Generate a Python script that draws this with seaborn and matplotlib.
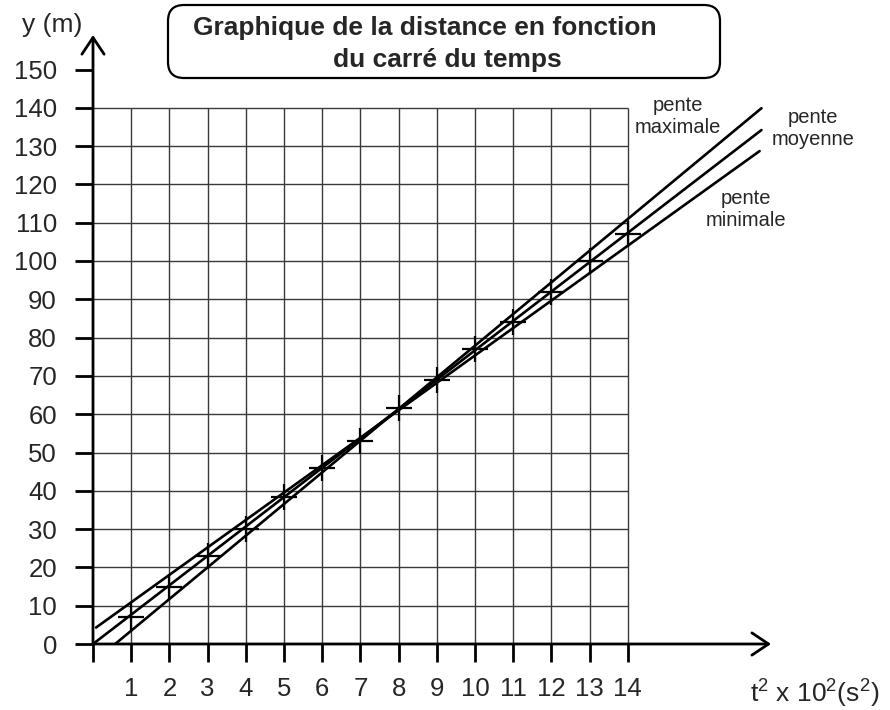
import matplotlib
matplotlib.use("Agg")
import matplotlib.pyplot as plt
from matplotlib.patches import FancyBboxPatch
import seaborn as sns
import numpy as np
import pandas as pd

# donnees
t2 = [1, 2, 3, 4, 5, 6, 7, 8, 9, 10, 11, 12, 13, 14]
dist = [7, 15, 23, 30, 38.5, 46, 53, 61.5, 69, 77, 84, 92, 100, 107]

# droites (extremites)
pente_max_x = [0.58, 17.5]
pente_max_y = [0.0, 139.9]
pente_moy_x = [0.0, 17.5]
pente_moy_y = [0.0, 134.2]
pente_min_x = [0.08, 17.45]
pente_min_y = [4.3, 128.7]

x_ticks = list(range(0, 15))
x_labels = [""] + [str(i) for i in range(1, 15)]
y_ticks = list(range(0, 151, 10))

sns.set_style("white")
plt.rcParams["font.family"] = ["Liberation Sans", "DejaVu Sans"]
plt.rcParams["mathtext.default"] = "regular"

fig = plt.figure(figsize=(8.9, 7.1), dpi=100)
ax = fig.add_axes([93 / 890, 66 / 710, 687.6 / 890, 612.8 / 710])
ax.set_xlim(0, 18)
ax.set_ylim(0, 160)

# quadrillage (jusqu'a 14 et 140 seulement)
ax.vlines(x_ticks[1:], 0, 140, color="#3a3a3a", lw=1.0, zorder=1)
ax.hlines(y_ticks[1:15], 0, 14, color="#3a3a3a", lw=1.0, zorder=1)

# droites de pente
for lx, ly in [(pente_max_x, pente_max_y), (pente_moy_x, pente_moy_y), (pente_min_x, pente_min_y)]:
    sns.lineplot(x=lx, y=ly, color="black", lw=1.9, ax=ax, zorder=3)

# points de mesure
df = pd.DataFrame({"t2": t2, "y": dist})
sns.scatterplot(data=df, x="t2", y="y", marker="+", s=330, color="black",
                linewidths=1.6, ax=ax, zorder=4)

# axes avec fleches
for s in ax.spines.values():
    s.set_visible(False)
ax.annotate("", xy=(17.75, 0), xytext=(0, 0),
            arrowprops=dict(arrowstyle="->,head_length=0.6,head_width=0.4",
                            lw=2, color="black", mutation_scale=20,
                            shrinkA=0, shrinkB=0), zorder=5)
ax.annotate("", xy=(0, 159), xytext=(0, 0),
            arrowprops=dict(arrowstyle="->,head_length=0.6,head_width=0.4",
                            lw=2, color="black", mutation_scale=20,
                            shrinkA=0, shrinkB=0), zorder=5)

ax.set_xticks(x_ticks)
ax.set_xticklabels(x_labels)
ax.set_yticks(y_ticks)
ax.tick_params(axis="both", direction="out", length=13, width=2, color="black",
               labelsize=18.5, left=True, bottom=True)
ax.tick_params(axis="y", pad=13)
ax.tick_params(axis="x", pad=11)
ax.set_xlabel("")
ax.set_ylabel("")

# etiquettes des droites
ax.text(15.3, 137.8, "pente\nmaximale", ha="center", va="center", fontsize=14.5,
        linespacing=1.2)
ax.text(18.85, 134.7, "pente\nmoyenne", ha="center", va="center", fontsize=14.5,
        linespacing=1.2)
ax.text(17.1, 113.5, "pente\nminimale", ha="center", va="center", fontsize=14.5,
        linespacing=1.2)

# titre encadre
box = FancyBboxPatch((1.68, 6.32), 5.52, 0.73,
                     boxstyle="round,pad=0,rounding_size=0.16",
                     transform=fig.dpi_scale_trans, fill=False,
                     edgecolor="black", lw=1.6)
fig.patches.append(box)
fig.text(425 / 890, 1 - 28 / 710, "Graphique de la distance en fonction",
         ha="center", va="center", fontsize=19, fontweight="bold")
fig.text(447 / 890, 1 - 60 / 710, "du carré du temps",
         ha="center", va="center", fontsize=19, fontweight="bold")

fig.text(52 / 890, 1 - 25 / 710, "y (m)", ha="center", va="center", fontsize=19)
fig.text(815 / 890, 1 - 703 / 710, r"$t^2$ x $10^2(s^2)$", ha="center",
         va="baseline", fontsize=19)

fig.savefig("out.png", dpi=100)
